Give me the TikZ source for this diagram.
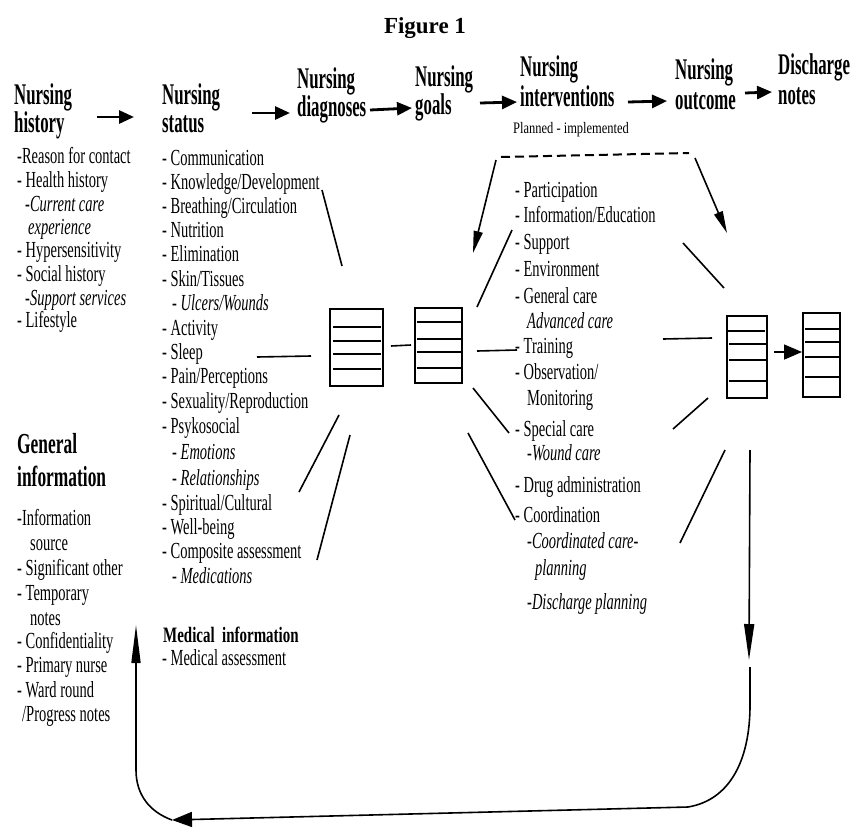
\documentclass[tikz,border=0pt]{standalone}
\usepackage{fontspec}
\setmainfont{Liberation Serif}
\newfontfamily\condf[FakeStretch=0.63]{Liberation Serif}
\newfontfamily\headf[FakeStretch=0.56]{Liberation Serif}
\newfontfamily\genf[FakeStretch=0.6]{Liberation Serif}
\newfontfamily\medf[FakeStretch=0.68]{Liberation Serif}
\newfontfamily\planf[FakeStretch=0.78]{Liberation Serif}
\usetikzlibrary{arrows.meta}
\newcommand{\lsz}{\fontsize{23}{25}\selectfont}
\tikzset{
  li/.style={anchor=west, inner sep=0pt, font=\condf\lsz, text height=16pt, text depth=5pt},
  lit/.style={li, font=\condf\itshape\lsz},
  hd/.style={anchor=west, inner sep=0pt, font=\headf\bfseries\fontsize{30}{32}\selectfont, text height=20pt, text depth=7pt},
  gi/.style={anchor=west, inner sep=0pt, font=\genf\bfseries\fontsize{29}{31}\selectfont, text height=20pt, text depth=7pt},
  mi/.style={anchor=west, inner sep=0pt, font=\medf\bfseries\fontsize{22}{24}\selectfont, text height=15pt, text depth=5pt},
  harr/.style={line width=2.8pt, -{Triangle[length=15pt,width=13pt]}},
  cl/.style={line width=1.6pt},
  bx/.style={draw, line width=2pt, inner sep=0pt},
  longtip/.style={cl, -{Triangle[length=36pt,width=10pt]}},
  midtip/.style={cl, -{Triangle[length=22pt,width=9pt]}},
}
\begin{document}
\begin{tikzpicture}[x=1pt,y=-1pt]
\useasboundingbox (0,0) rectangle (851,828);
\fill[white] (0,0) rectangle (851,828);

% title
\node[font=\bfseries\fontsize{23}{26}\selectfont, inner sep=0pt] (title) at (425,28) {Figure 1};

% headers
\node[hd] (h1a) at (14,98) {Nursing};
\node[hd] (h1b) at (14,126) {history};
\node[hd] (h2a) at (162,98) {Nursing};
\node[hd] (h2b) at (162,126) {status};
\node[hd] (h3a) at (297,82) {Nursing};
\node[hd] (h3b) at (297,110) {diagnoses};
\node[hd] (h4a) at (415,80) {Nursing};
\node[hd] (h4b) at (415,108) {goals};
\node[hd] (h5a) at (520,70) {Nursing};
\node[hd] (h5b) at (520,100) {interventions};
\node[anchor=west, inner sep=0pt, font=\planf\fontsize{16}{18}\selectfont] (plan) at (513,130) {Planned - implemented};
\node[hd] (h6a) at (675,73) {Nursing};
\node[hd] (h6b) at (675,103) {outcome};
\node[hd] (h7a) at (778,68) {Discharge};
\node[hd] (h7b) at (778,98) {notes};

% header arrows
\coordinate (a1s) at (97,117);  \coordinate (a1e) at (134,117);
\coordinate (a2s) at (252,113); \coordinate (a2e) at (290,113);
\coordinate (a3s) at (370,110); \coordinate (a3e) at (412,108);
\coordinate (a4s) at (480,103); \coordinate (a4e) at (517,102);
\coordinate (a5s) at (628,102); \coordinate (a5e) at (667,101);
\coordinate (a6s) at (745,93);  \coordinate (a6e) at (772,92);
\draw[harr] (a1s) -- (a1e);
\draw[harr] (a2s) -- (a2e);
\draw[harr] (a3s) -- (a3e);
\draw[harr] (a4s) -- (a4e);
\draw[harr] (a5s) -- (a5e);
\draw[harr] (a6s) -- (a6e);

% nursing history list
\node[li]  (n1) at (17,158) {-Reason for contact};
\node[li]  (n2) at (17,182) {- Health history};
\node[lit] (n3) at (25,206) {\normalfont\condf\lsz -\itshape Current care};
\node[lit] (n4) at (28,229) {experience};
\node[li]  (n5) at (17,252) {- Hypersensitivity};
\node[li]  (n6) at (17,276) {- Social history};
\node[lit] (n7) at (25,300) {\normalfont\condf\lsz -\itshape Support services};
\node[li]  (n8) at (17,322) {- Lifestyle};

% general information
\node[gi] (g0a) at (17,447) {General};
\node[gi] (g0b) at (17,480) {information};
\node[li] (g1) at (17,520) {-Information};
\node[li] (g2) at (30,545) {source};
\node[li] (g3) at (17,570) {- Significant other};
\node[li] (g4) at (17,595) {- Temporary};
\node[li] (g5) at (30,620) {notes};
\node[li] (g6) at (17,643) {- Confidentiality};
\node[li] (g7) at (17,667) {- Primary nurse};
\node[li] (g8) at (17,692) {- Ward round};
\node[li] (g9) at (22,716) {/Progress notes};

% nursing status list
\node[li]  (s1) at (162,160) {- Communication};
\node[li]  (s2) at (162,184) {- Knowledge/Development};
\node[li]  (s3) at (162,208) {- Breathing/Circulation};
\node[li]  (s4) at (162,232) {- Nutrition};
\node[li]  (s5) at (162,256) {- Elimination};
\node[li]  (s6) at (162,281) {- Skin/Tissues};
\node[lit] (s7) at (172,305) {\normalfont\condf\lsz - \itshape Ulcers/Wounds};
\node[li]  (s8) at (162,330) {- Activity};
\node[li]  (s9) at (162,354) {- Sleep};
\node[li]  (s10) at (162,378) {- Pain/Perceptions};
\node[li]  (s11) at (162,403) {- Sexuality/Reproduction};
\node[li]  (s12) at (162,428) {- Psykosocial};
\node[lit] (s13) at (172,454) {\normalfont\condf\lsz - \itshape Emotions};
\node[lit] (s14) at (172,480) {\normalfont\condf\lsz - \itshape Relationships};
\node[li]  (s15) at (162,505) {- Spiritual/Cultural};
\node[li]  (s16) at (162,529) {- Well-being};
\node[li]  (s17) at (162,553) {- Composite assessment};
\node[lit] (s18) at (172,578) {\normalfont\condf\lsz - \itshape Medications};
\node[mi]  (m1) at (163,637) {Medical~~information};
\node[li]  (m2) at (162,660) {- Medical assessment};

% interventions list
\node[li]  (i1) at (515,192) {- Participation};
\node[li]  (i2) at (515,217) {- Information/Education};
\node[li]  (i3) at (515,244) {- Support};
\node[li]  (i4) at (515,271) {- Environment};
\node[li]  (i5) at (515,298) {- General care};
\node[lit] (i6) at (527,323) {Advanced care};
\node[li]  (i7) at (515,348) {- Training};
\node[li]  (i8) at (515,374) {- Observation/};
\node[li]  (i9) at (527,400) {Monitoring};
\node[li]  (i10) at (515,431) {- Special care};
\node[lit] (i11) at (527,455) {\normalfont\condf\lsz -\itshape Wound care};
\node[li]  (i12) at (515,487) {- Drug administration};
\node[li]  (i13) at (515,517) {- Coordination};
\node[lit] (i14) at (527,543) {\normalfont\condf\lsz -\itshape Coordinated care-};
\node[lit] (i15) at (535,570) {planning};
\node[lit] (i16) at (527,604) {\normalfont\condf\lsz -\itshape Discharge planning};

% boxes
\node[bx, minimum width=53pt, minimum height=77pt] (bA) at (356.5,347.5) {};
\draw[cl] (333,327) -- (381,327) (333,341) -- (381,341) (333,354) -- (381,354) (333,369) -- (381,369);
\node[bx, minimum width=47pt, minimum height=75pt] (bB) at (438.5,345.5) {};
\draw[cl] (417,322) -- (461,322) (417,339) -- (461,339) (417,352) -- (461,352) (417,368) -- (461,368);
\node[bx, minimum width=40pt, minimum height=82pt] (bC) at (747,357) {};
\draw[cl] (726,331) -- (765,331) (729,344) -- (766,344) (729,360) -- (766,360) (729,381) -- (766,381);
\node[bx, minimum width=37pt, minimum height=84pt] (bD) at (821.5,355) {};
\draw[cl] (805,329) -- (839,329) (805,342) -- (839,342) (805,357) -- (839,357) (805,377) -- (839,377);

% connectors around A and B
\draw[cl] (bA.east |- 0,346) ++(7,0) -- (411,345);
\coordinate (la1) at (257,357); \coordinate (la2) at (311,356);
\draw[cl] (la1) -- (la2);
\coordinate (lb1) at (477,351); \coordinate (lb2) at (517,350);
\draw[cl] (lb1) -- (lb2);
\coordinate (ua1) at (322,190); \coordinate (ua2) at (342,266);
\draw[cl] (ua1) -- (ua2);
\coordinate (da1) at (339,415); \coordinate (da2) at (299,492);
\draw[cl] (da1) -- (da2);
\coordinate (db1) at (350,435); \coordinate (db2) at (317,560);
\draw[cl] (db1) -- (db2);
\coordinate (ub1) at (477,307); \coordinate (ub2) at (512,230);
\draw[cl] (ub1) -- (ub2);
\coordinate (rb1) at (473,388); \coordinate (rb2) at (509,433);
\draw[cl] (rb1) -- (rb2);
\coordinate (sb1) at (468,433); \coordinate (sb2) at (515,520);
\draw[cl] (sb1) -- (sb2);

% dashed line and arrows
\coordinate (dl) at (501,157); \coordinate (dr) at (689,153);
\draw[line width=2pt, dash pattern=on 9pt off 5pt] (dl) -- (dr);
\coordinate (dla) at (473,253); \coordinate (dra) at (727,233);
\draw[midtip] (496,160) -- (dla);
\draw[midtip] (695,158) -- (dra);

% connectors around C
\coordinate (uc1) at (683,243); \coordinate (uc2) at (724,288);
\draw[cl] (uc1) -- (uc2);
\coordinate (mc1) at (663,339); \coordinate (mc2) at (712,338);
\draw[cl] (mc1) -- (mc2);
\coordinate (lc1) at (673,429); \coordinate (lc2) at (708,398);
\draw[cl] (lc1) -- (lc2);
\coordinate (dc1) at (725,450); \coordinate (dc2) at (680,543);
\draw[cl] (dc1) -- (dc2);
\draw[cl, -{Triangle[length=18pt,width=15pt]}] (bC.east |- 0,352) ++(6,0) -- (bD.west |- 0,352);

% vertical arrow and loop
\coordinate (v1) at (750,450); \coordinate (v2) at (749,660);
\draw[longtip] (v1) -- (v2);
\coordinate (r1) at (750,667);
\coordinate (bot) at (688,807);
\coordinate (lft) at (172,820);
\coordinate (lup) at (136,625);
\draw[cl, -{Triangle[length=20pt,width=15pt]}] (r1) -- (750,705) .. controls (750,760) and (730,800) .. (bot) -- (lft);
\draw[cl, -{Triangle[length=38pt,width=9pt]}] (lft) .. controls (150,812) and (136,795) .. (136,770) -- (lup);
\end{tikzpicture}
\end{document}
